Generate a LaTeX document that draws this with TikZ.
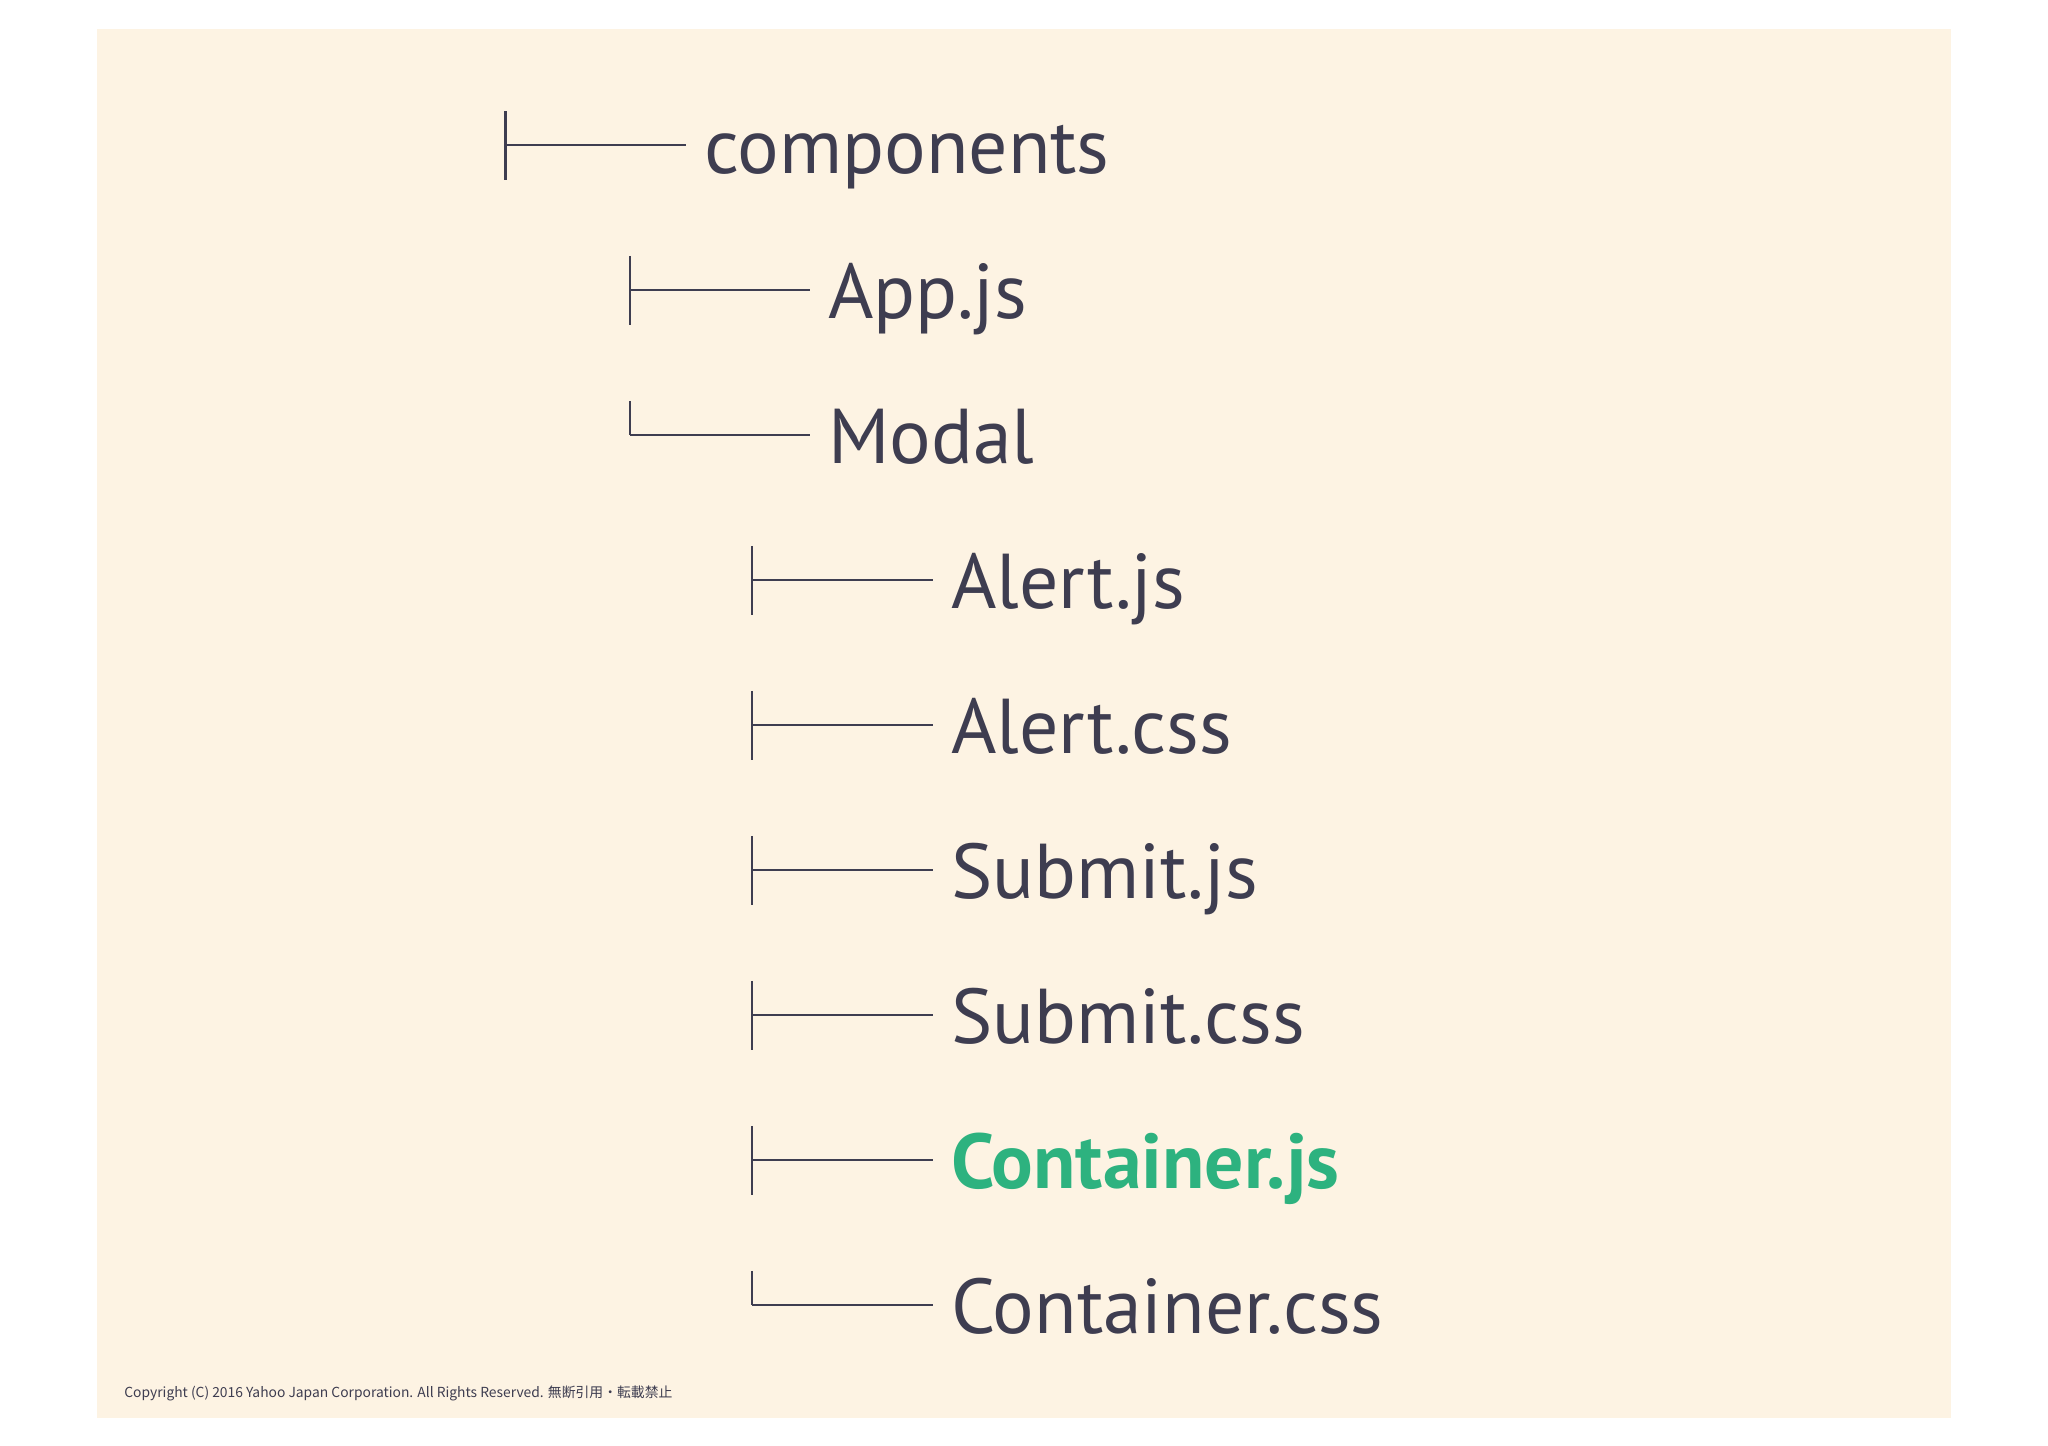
\documentclass[tikz,border=0pt]{standalone}
\usepackage{fontspec}
\setmainfont{PT Sans}
\newfontfamily\cjkfont{Noto Sans CJK JP}
\definecolor{bg}{HTML}{FDF3E3}
\definecolor{ink}{HTML}{3E3D50}
\definecolor{grn}{HTML}{2DB27F}
\begin{document}
\begin{tikzpicture}[x=1pt,y=-1pt,
  lbl/.style={anchor=base west,inner sep=0pt,text=ink,font=\fontsize{59.5}{70}\selectfont},
  br/.style={draw=ink,line width=1.6pt}]
\useasboundingbox (0,0) rectangle (1568,1107);
\fill[white] (0,0) rectangle (1568,1107);
\fill[bg] (74,22) rectangle (1494,1086);
\def\row#1#2#3#4#5{%
  \coordinate (t#1) at (#2,#3-26);
  \coordinate (c#1) at (#2,#3);
  \coordinate (e#1) at (#2+138,#3);
  \ifnum#4=1 \coordinate (b#1) at (#2,#3+27);\else\coordinate (b#1) at (#2,#3);\fi
  \draw[br] (t#1) -- (b#1) (c#1) -- (e#1);
  \node[lbl] (n#1) at (#2+152,#3+22) {#5};}
\row{1}{387}{111}{1}{components}
\row{2}{482}{222}{1}{App.js}
\row{3}{482}{333}{0}{Modal}
\row{4}{576}{444}{1}{Alert.js}
\row{5}{576}{555}{1}{Alert.css}
\row{6}{576}{666}{1}{Submit.js}
\row{7}{576}{777}{1}{Submit.css}
\row{8}{576}{888}{1}{\textcolor{grn}{\bfseries Container.js}}
\row{9}{576}{999}{0}{Container.css}
\node[anchor=base west,inner sep=0pt,text=ink,font=\cjkfont\fontsize{10.6}{12}\selectfont] (copy) at (95,1070) {Copyright (C) 2016 Yahoo Japan Corporation. All Rights Reserved. 無断引用・転載禁止};
\end{tikzpicture}
\end{document}
